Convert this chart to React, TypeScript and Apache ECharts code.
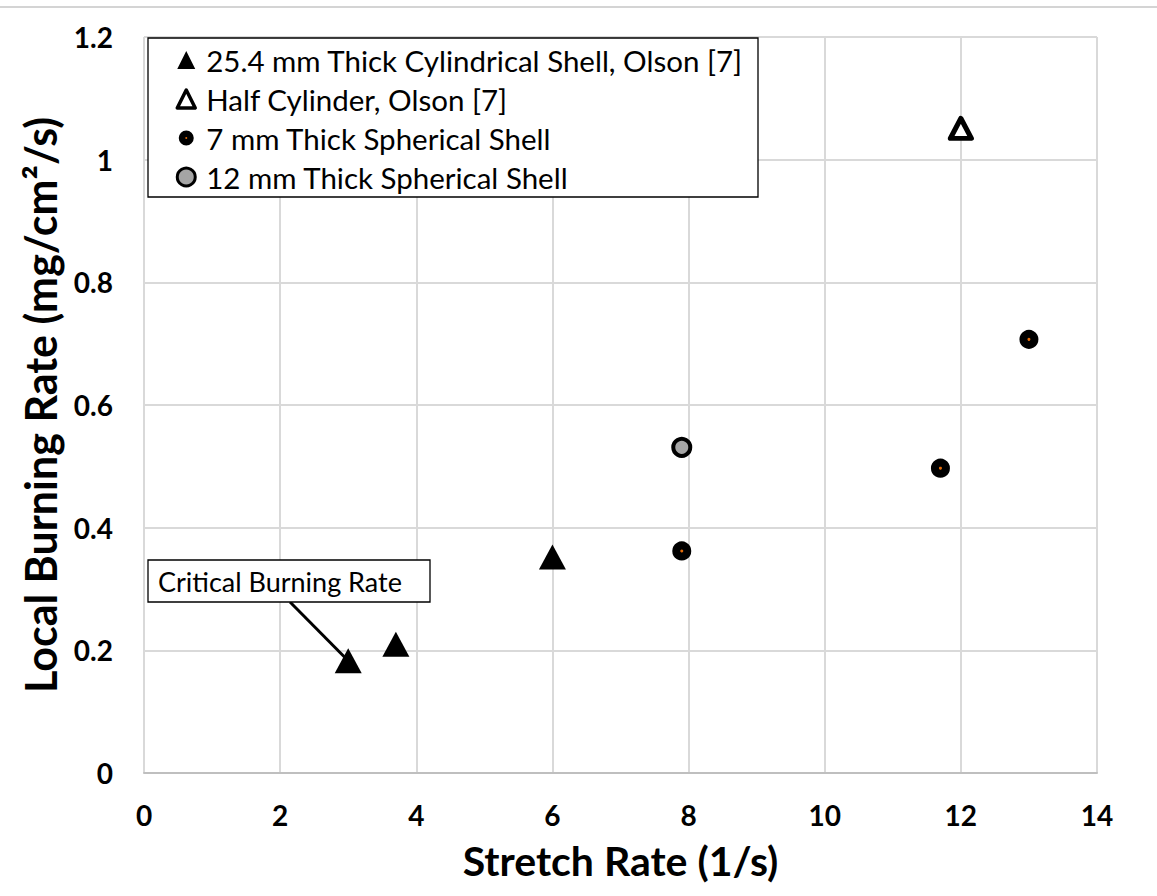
import React, { useEffect, useRef } from "react";
import * as echarts from "echarts";

// Stretch rate (1/s) vs local burning rate (mg/cm²/s)
const cylShellX = [3.0, 3.7, 6.0];
const cylShellY = [0.183, 0.21, 0.352];
const halfCylX = [12.0];
const halfCylY = [1.051];
const sph7X = [7.9, 11.7, 13.0];
const sph7Y = [0.362, 0.497, 0.707];
const sph12X = [7.9];
const sph12Y = [0.531];

const seriesNames = [
  "25.4 mm Thick Cylindrical Shell, Olson [7]",
  "Half Cylinder, Olson [7]",
  "7 mm Thick Spherical Shell",
  "12 mm Thick Spherical Shell",
];

const xTicks = { min: 0, max: 14, interval: 2 };
const yTicks = { min: 0, max: 1.2, interval: 0.2 };

const criticalLabel = "Critical Burning Rate";
const criticalPoint = [cylShellX[0], cylShellY[0]];

const FONT = "Lato, 'Open Sans', sans-serif";
const ORANGE = "#e46c0a";

// circle with a padded bounding box so the legend icon keeps its small size
const smallDotIcon =
  "path://M0,0L0,0M18,18L18,18M4.75,9A4.25,4.25,0,1,1,13.25,9A4.25,4.25,0,1,1,4.75,9Z";

const zip = (xs: number[], ys: number[]) => xs.map((x, i) => [x, ys[i]]);

export default function App() {
  const ref = useRef<HTMLDivElement>(null);

  useEffect(() => {
    if (!ref.current) return;
    const chart = echarts.init(ref.current, null, { renderer: "svg" });

    const option: any = {
      animation: false,
      backgroundColor: "#ffffff",
      grid: { left: 144, right: 60, top: 37, bottom: 123, containLabel: false },
      xAxis: {
        type: "value",
        ...xTicks,
        name: "Stretch Rate (1/s)",
        nameLocation: "middle",
        nameGap: 67,
        nameTextStyle: { fontFamily: FONT, fontWeight: "bold", fontSize: 41, color: "#000" },
        axisLine: { show: true, lineStyle: { color: "#bfbfbf", width: 2 } },
        axisTick: { show: false },
        axisLabel: { fontFamily: FONT, fontWeight: "bold", fontSize: 28, color: "#000", margin: 28 },
        splitLine: { show: true, lineStyle: { color: "#d9d9d9", width: 2 } },
      },
      yAxis: {
        type: "value",
        ...yTicks,
        name: "Local Burning Rate (mg/cm²/s)",
        nameLocation: "middle",
        nameGap: 82,
        nameTextStyle: { fontFamily: FONT, fontWeight: "bold", fontSize: 43, color: "#000" },
        axisLine: { show: false },
        axisTick: { show: false },
        axisLabel: { fontFamily: FONT, fontWeight: "bold", fontSize: 28, color: "#000", margin: 31 },
        splitLine: { show: true, lineStyle: { color: "#d9d9d9", width: 2 } },
      },
      legend: {
        orient: "vertical",
        left: 174,
        top: 45,
        padding: 0,
        itemWidth: 18,
        itemHeight: 18,
        itemGap: 9,
        selectedMode: false,
        textStyle: {
          fontFamily: FONT,
          fontSize: 29.5,
          color: "#000",
          lineHeight: 30,
          padding: [0, 0, 0, 6],
        },
        data: [
          {
            name: seriesNames[0],
            icon: "triangle",
            itemStyle: { color: "#000", borderWidth: 0, opacity: 1 },
          },
          {
            name: seriesNames[1],
            icon: "triangle",
            itemStyle: {
              color: "#fff",
              borderColor: "#000",
              borderWidth: 3.5,
              borderJoin: "round",
              opacity: 1,
            },
          },
          {
            name: seriesNames[2],
            icon: smallDotIcon,
            itemStyle: { color: ORANGE, borderColor: "#000", borderWidth: 6.5, opacity: 1 },
          },
          {
            name: seriesNames[3],
            icon: "circle",
            itemStyle: { color: "#a5a5a5", borderColor: "#000", borderWidth: 3, opacity: 1 },
          },
        ],
      },
      series: [
        {
          name: seriesNames[0],
          type: "scatter",
          symbol: "triangle",
          symbolSize: [27, 25],
          itemStyle: { color: "#000", opacity: 1 },
          data: zip(cylShellX, cylShellY),
          z: 5,
        },
        {
          name: seriesNames[1],
          type: "scatter",
          symbol: "triangle",
          symbolSize: [21, 20],
          itemStyle: {
            color: "#fff",
            borderColor: "#000",
            borderWidth: 5,
            borderJoin: "round",
            opacity: 1,
          },
          data: zip(halfCylX, halfCylY),
          z: 5,
        },
        {
          name: seriesNames[2],
          type: "scatter",
          symbol: "circle",
          symbolSize: 11,
          itemStyle: { color: ORANGE, borderColor: "#000", borderWidth: 8, opacity: 1 },
          data: zip(sph7X, sph7Y),
          z: 5,
        },
        {
          name: seriesNames[3],
          type: "scatter",
          symbol: "circle",
          symbolSize: 17,
          itemStyle: { color: "#a5a5a5", borderColor: "#000", borderWidth: 4, opacity: 1 },
          data: zip(sph12X, sph12Y),
          z: 5,
        },
      ],
    };

    chart.setOption(option);

    // Legend frame, callout box with its leader line, and the thin rule along the top
    const target = chart.convertToPixel({ gridIndex: 0 }, criticalPoint) as number[];
    const boxLeft = 148;
    const boxTop = 560;
    const boxW = 282;
    const boxH = 42;
    chart.setOption({
      graphic: [
        {
          type: "line",
          shape: { x1: 0, y1: 7, x2: 1157, y2: 7 },
          style: { stroke: "#d4d4d4", lineWidth: 2 },
          z: 1,
        },
        {
          type: "rect",
          shape: { x: 148, y: 38, width: 610, height: 159 },
          style: { fill: "#fff", stroke: "#000", lineWidth: 1.3 },
          z: 1,
        },
        {
          type: "line",
          shape: { x1: 290, y1: boxTop + boxH, x2: target[0] - 2, y2: target[1] - 2 },
          style: { stroke: "#000", lineWidth: 3 },
          z: 1,
        },
        {
          type: "rect",
          shape: { x: boxLeft, y: boxTop, width: boxW, height: boxH },
          style: { fill: "#fff", stroke: "#000", lineWidth: 1.3 },
          z: 10,
        },
        {
          type: "text",
          x: boxLeft + 10,
          y: boxTop + boxH / 2,
          style: {
            text: criticalLabel,
            fontFamily: FONT,
            fontSize: 27,
            fill: "#000",
            verticalAlign: "middle",
            align: "left",
          },
          z: 11,
        },
      ],
    });

    return () => chart.dispose();
  }, []);

  return (
    <div
      ref={ref}
      style={{ position: "fixed", left: 0, top: 0, width: 1157, height: 896, background: "#fff" }}
    />
  );
}
